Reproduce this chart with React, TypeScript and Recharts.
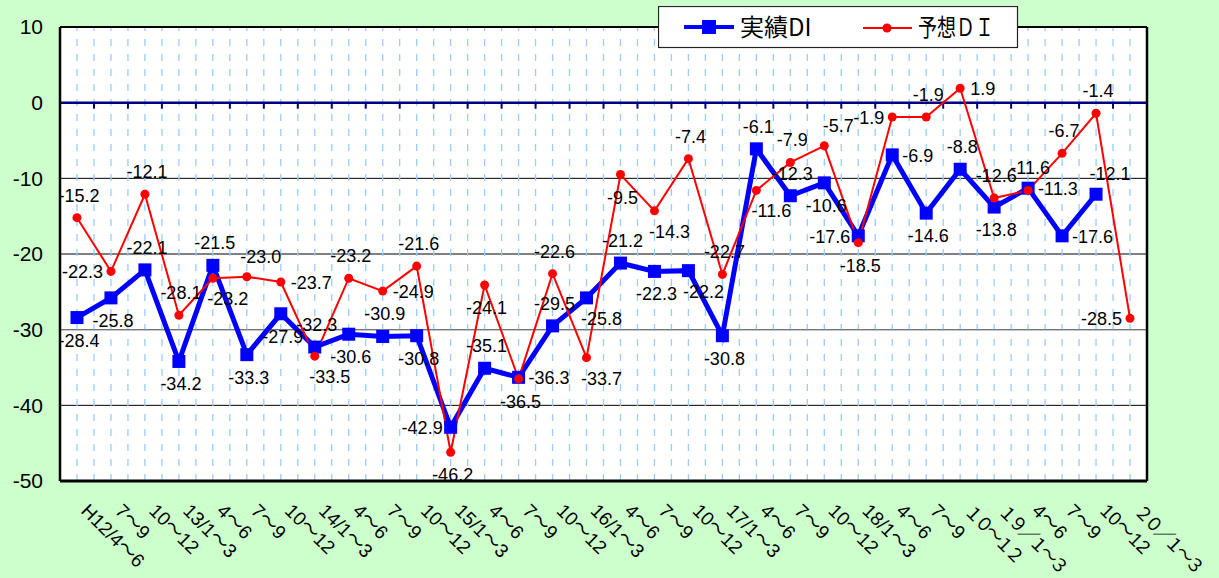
import React from 'react';
import { LineChart, Line, XAxis, YAxis, CartesianGrid, ReferenceLine } from 'recharts';

const categories = ['H12/4～6','7～9','10～12','13/1～3','4～6','7～9','10～12','14/1～3','4～6','7～9','10～12','15/1～3','4～6','7～9','10～12','16/1～3','4～6','7～9','10～12','17/1～3','4～6','7～9','10～12','18/1～3','4～6','7～9','１０～１２','１９／１～３','4～6','7～9','10～12','２０／１～３'];
const actualDI: (number | null)[] = [-28.4,-25.8,-22.1,-34.2,-21.5,-33.3,-27.9,-32.3,-30.6,-30.9,-30.8,-42.9,-35.1,-36.3,-29.5,-25.8,-21.2,-22.3,-22.2,-30.8,-6.1,-12.3,-10.6,-17.6,-6.9,-14.6,-8.8,-13.8,-11.3,-17.6,-12.1,null];
const forecastDI: (number | null)[] = [-15.2,-22.3,-12.1,-28.1,-23.2,-23.0,-23.7,-33.5,-23.2,-24.9,-21.6,-46.2,-24.1,-36.5,-22.6,-33.7,-9.5,-14.3,-7.4,-22.7,-11.6,-7.9,-5.7,-18.5,-1.9,-1.9,1.9,-12.6,-11.6,-6.7,-1.4,-28.5];
const yTicks = [10, 0, -10, -20, -30, -40, -50];
const seriesNames = ['実績DI', '予想ＤＩ'];
// data-label placement (a = above, b = below, l = left, r = right, ar/br = shifted right)
const actualLabelSide = ['b','b','a','b','a','b','b','a','b','a','b','l','a','r','a','br','a','b','br','b','a','a','b','l','r','b','a','b','r','r','ar',''];
const forecastLabelSide = ['a','l','a','a','br','ar','r','br','a','r','a','b','b','b','a','br','b','br','a','a','br','a','ar','b','l','a','r','a','a','a','a','l'];

const data = categories.map((c, i) => ({ idx: i, cat: c, actual: actualDI[i], forecast: forecastDI[i] }));
const idxTicks = categories.map((_, i) => i);
const halfLines: number[] = [];
for (let i = 0; i < categories.length * 2 - 1; i++) halfLines.push(i * 0.5);
const boundaries: number[] = [];
for (let i = 0; i <= categories.length; i++) boundaries.push(i - 0.5);

const FONT = '"Liberation Sans", Arial, "Noto Sans CJK JP", sans-serif';
const isWide = (s: string) => /[０-９／]/.test(s);

const XTick = (props: any) => {
  const { x, y, payload } = props;
  const label = categories[payload.value] ?? '';
  const wide = isWide(label);
  return (
    <g transform={`translate(${x + 3},${y + 31}) rotate(45)`}>
      <text
        x={0}
        y={0}
        textAnchor="start"
        fontSize={wide ? 18 : 19}
        letterSpacing={wide ? -3.5 : 0}
        fontFamily={FONT}
        fill="#000"
      >
        {label}
      </text>
    </g>
  );
};

const makeLabel = (own: (number | null)[], sides: string[]) => (props: any) => {
  const { x, y, index } = props;
  const v = own[index];
  if (v == null || x == null || y == null) return null;
  const side = sides[index] || 'a';
  let tx = x + 2;
  let ty = y - 16;
  let anchor: 'middle' | 'start' | 'end' = 'middle';
  if (side === 'b') { ty = y + 29; }
  else if (side === 'br') { tx = x + 15; ty = y + 27; }
  else if (side === 'ar') { tx = x + 14; ty = y - 14; }
  else if (side === 'l') { tx = x - 8; ty = y + 7; anchor = 'end'; }
  else if (side === 'r') { tx = x + 10; ty = y + 7; anchor = 'start'; }
  return (
    <text key={`l${index}`} x={tx} y={ty} textAnchor={anchor} fontSize={18} fontFamily={FONT} fill="#000">
      {v.toFixed(1)}
    </text>
  );
};

const SquareDot = (props: any) => {
  const { cx, cy, index } = props;
  if (cx == null || cy == null || props.value == null) return <g key={`s${index}`} />;
  return <rect key={`s${index}`} x={cx - 6.5} y={cy - 6.5} width={13} height={13} fill="#0000FF" />;
};

const RoundDot = (props: any) => {
  const { cx, cy, index } = props;
  if (cx == null || cy == null) return <g key={`c${index}`} />;
  return <circle key={`c${index}`} cx={cx} cy={cy} r={4.5} fill="#FF0000" />;
};

export default function App() {
  return (
    <div style={{ position: 'absolute', left: 0, top: 0, width: 1219, height: 578, background: '#CCFFCC', overflow: 'hidden' }}>
      <LineChart width={1219} height={578} data={data} margin={{ top: 27, right: 72, bottom: 0, left: 0 }}>
        <CartesianGrid horizontal vertical={false} stroke="#000" strokeWidth={1} fill="#FFFFFF" fillOpacity={1} />
        {halfLines.map((v) => (
          <ReferenceLine key={`h${v}`} x={v} stroke="#99CCFF" strokeWidth={1.3} strokeDasharray="7 8" />
        ))}
        <ReferenceLine y={-30} stroke="#808080" strokeWidth={1} />
        <ReferenceLine y={0} stroke="#000080" strokeWidth={2.5} />
        {boundaries.map((b) => (
          <ReferenceLine key={`t${b}`} segment={[{ x: b, y: 0 }, { x: b, y: -0.8 }]} stroke="#000080" strokeWidth={2} />
        ))}
        <ReferenceLine y={10} stroke="#000" strokeWidth={2} />
        <ReferenceLine x={31.5} stroke="#000" strokeWidth={2.5} />
        <XAxis
          dataKey="idx"
          type="number"
          domain={[-0.5, 31.5]}
          ticks={idxTicks}
          interval={0}
          height={97}
          tickLine={false}
          tickSize={0}
          tickMargin={0}
          axisLine={{ stroke: '#000', strokeWidth: 3 }}
          tick={<XTick />}
        />
        <YAxis
          domain={[-50, 10]}
          ticks={yTicks}
          interval={0}
          width={60}
          tickLine={false}
          tickSize={6}
          tickMargin={11}
          axisLine={{ stroke: '#000', strokeWidth: 2.5 }}
          tick={{ fontSize: 21, fill: '#000', fontFamily: FONT }}
        />
        <Line
          dataKey="actual"
          name={seriesNames[0]}
          type="linear"
          stroke="#0000FF"
          strokeWidth={5}
          dot={<SquareDot />}
          activeDot={false}
          isAnimationActive={false}
          label={makeLabel(actualDI, actualLabelSide)}
        />
        <Line
          dataKey="forecast"
          name={seriesNames[1]}
          type="linear"
          stroke="#FF0000"
          strokeWidth={2}
          dot={<RoundDot />}
          activeDot={false}
          isAnimationActive={false}
          label={makeLabel(forecastDI, forecastLabelSide)}
        />
      </LineChart>
      <svg style={{ position: 'absolute', left: 658, top: 6 }} width={361} height={43}>
        <rect x={0.5} y={0.5} width={359} height={41} fill="#FFFFFF" stroke="#222" strokeWidth={1.2} />
        <line x1={26} y1={21} x2={76} y2={21} stroke="#0000FF" strokeWidth={4} />
        <rect x={44} y={14} width={14} height={14} fill="#0000FF" />
        <text x={82} y={30} fontSize={24} fontFamily='"Noto Sans CJK JP", sans-serif' fill="#000">{seriesNames[0]}</text>
        <line x1={205} y1={22} x2={254} y2={22} stroke="#FF0000" strokeWidth={2} />
        <circle cx={229} cy={22} r={4.5} fill="#FF0000" />
        <text x={260} y={30} fontSize={24} fontFamily='"Noto Sans CJK JP", sans-serif' fill="#000" textLength={76} lengthAdjust="spacingAndGlyphs">{seriesNames[1]}</text>
      </svg>
    </div>
  );
}
